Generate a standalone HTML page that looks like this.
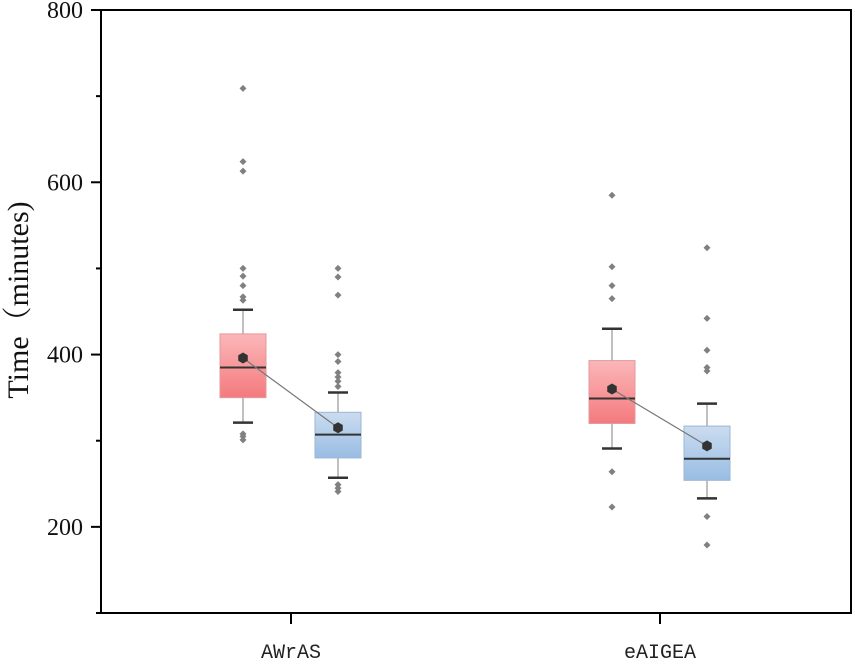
<!DOCTYPE html>
<html><head><meta charset="utf-8"><style>
body{margin:0;background:#fff;}
svg text{font-family:"Liberation Serif","Noto Serif CJK SC",serif;}
</style></head><body>
<svg id="chart" width="855" height="661" xmlns="http://www.w3.org/2000/svg">
<defs>
<linearGradient id="gRed" x1="0" y1="0" x2="0" y2="1"><stop offset="0" stop-color="#fbb7b9"/><stop offset="1" stop-color="#f47a7e"/></linearGradient>
<linearGradient id="gBlue" x1="0" y1="0" x2="0" y2="1"><stop offset="0" stop-color="#cbdcf0"/><stop offset="1" stop-color="#98bde3"/></linearGradient>
</defs>
<g id="plot"></g>
</svg>
<script>
const categories = ["AWrAS", "eAIGEA"];
const series = ["red", "blue"];
const q1 = [[350, 280], [320, 254]];
const q3 = [[424, 333], [393, 317]];
const medians = [[385, 307], [349, 279]];
const means = [[396, 315], [360, 294]];
const whiskLow = [[321, 257], [291, 233]];
const whiskHigh = [[452, 356], [430, 343]];
const outliers = [
  [[709, 624, 613, 500, 491, 480, 467, 463, 308, 305, 301],
   [500, 490, 469, 400, 392, 379, 374, 369, 363, 249, 245, 241]],
  [[585, 502, 480, 465, 264, 223],
   [524, 442, 405, 385, 381, 212, 179]]
];
const yTicks = [200, 400, 600, 800];
const yMinor = [100, 300, 500, 700];

const L = 101, R = 851, T = 10, B = 613;
const yMin = 100, yMax = 800;
const y = v => B - (v - yMin) / (yMax - yMin) * (B - T);
const catX = i => 291 + i * 369;
const offs = [-48, 47];
const hw = 23;
const NS = "http://www.w3.org/2000/svg";
const g = document.getElementById('plot');
function mk(tag, attrs, parent) {
  const e = document.createElementNS(NS, tag);
  for (const k in attrs) e.setAttribute(k, attrs[k]);
  (parent || g).appendChild(e);
  return e;
}

let e = mk('rect', {x: L, y: T, width: R - L, height: B - T, fill: 'none', stroke: '#000', 'stroke-width': 2});



yTicks.forEach(v => {
  let t = mk('line', {x1: L - 10, x2: L, y1: y(v), y2: y(v), stroke: '#000', 'stroke-width': 2});
  
  
  let tx = mk('text', {x: L - 18, y: y(v) + 8, 'text-anchor': 'end', 'font-size': 24, fill: '#111'});
  tx.textContent = v;
  
  
});
yMinor.forEach(v => {
  let t = mk('line', {x1: L - 5, x2: L, y1: y(v), y2: y(v), stroke: '#000', 'stroke-width': 2});
  
  
});
categories.forEach((c, i) => {
  let t = mk('line', {x1: catX(i), x2: catX(i), y1: B, y2: B + 11, stroke: '#000', 'stroke-width': 2});
  
  
  let tx = mk('text', {x: catX(i), y: B + 45, 'text-anchor': 'middle', 'font-size': 20, fill: '#222', style: 'font-family:"Liberation Mono",monospace'});
  tx.textContent = c;
  
  
});
let yl = mk('text', {x: 0, y: 0, 'text-anchor': 'middle', 'font-size': 30, fill: '#111', transform: 'translate(28,300) rotate(-90)'});
yl.textContent = 'Time（minutes)';



categories.forEach((c, i) => {
  const pts = [];
  series.forEach((s, j) => {
    const cx = catX(i) + offs[j];
    const grp = mk('g', {});
    
    
    mk('line', {x1: cx, x2: cx, y1: y(whiskHigh[i][j]), y2: y(q3[i][j]), stroke: '#aaa', 'stroke-width': 1.5}, grp);
    mk('line', {x1: cx, x2: cx, y1: y(q1[i][j]), y2: y(whiskLow[i][j]), stroke: '#aaa', 'stroke-width': 1.5}, grp);
    mk('line', {x1: cx - 10, x2: cx + 10, y1: y(whiskHigh[i][j]), y2: y(whiskHigh[i][j]), stroke: '#333', 'stroke-width': 2.5}, grp);
    mk('line', {x1: cx - 10, x2: cx + 10, y1: y(whiskLow[i][j]), y2: y(whiskLow[i][j]), stroke: '#333', 'stroke-width': 2.5}, grp);
    mk('rect', {x: cx - hw, y: y(q3[i][j]), width: 2 * hw, height: y(q1[i][j]) - y(q3[i][j]), fill: s === 'red' ? 'url(#gRed)' : 'url(#gBlue)', stroke: s === 'red' ? '#e09a9c' : '#9db6d4', 'stroke-width': 1}, grp);
    mk('line', {x1: cx - hw, x2: cx + hw, y1: y(medians[i][j]), y2: y(medians[i][j]), stroke: '#333', 'stroke-width': 2}, grp);
    outliers[i][j].forEach(v => {
      const yy = y(v);
      let o = mk('path', {d: `M${cx} ${yy - 3.5}L${cx + 3.5} ${yy}L${cx} ${yy + 3.5}L${cx - 3.5} ${yy}Z`, fill: '#808080'});
      
      
    });
    pts.push([cx, y(means[i][j])]);
  });
  let ml = mk('line', {x1: pts[0][0], y1: pts[0][1], x2: pts[1][0], y2: pts[1][1], stroke: '#777', 'stroke-width': 1.2});
  
  
  pts.forEach(p => {
    const r = 5.5;
    let d = '';
    for (let k = 0; k < 6; k++) { const a = Math.PI / 6 + k * Math.PI / 3; d += (k ? 'L' : 'M') + (p[0] + r * Math.cos(a)) + ' ' + (p[1] + r * Math.sin(a)); }
    let m = mk('path', {d: d + 'Z', fill: '#333'});
    
    
  });
});
</script>
</body></html>
